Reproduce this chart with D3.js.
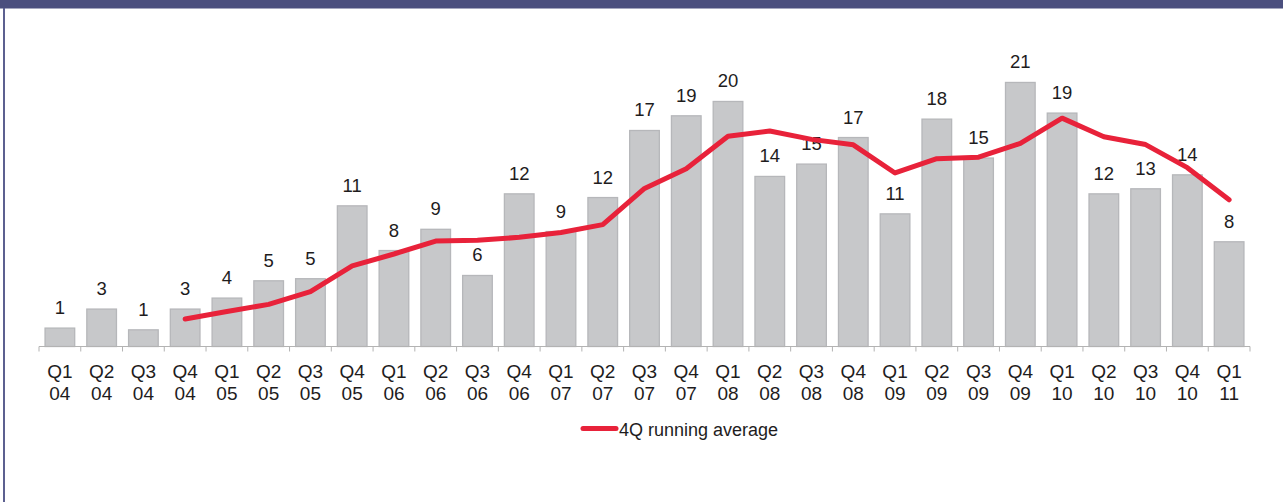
<!DOCTYPE html>
<html>
<head>
<meta charset="utf-8">
<script src="https://cdn.jsdelivr.net/npm/d3@7"></script>
<style>
  html, body { margin: 0; padding: 0; background: #fff; }
  svg { display: block; }
  text { font-family: "Liberation Sans", Arial, sans-serif; }
</style>
</head>
<body>
<svg id="chart" width="1283" height="502"></svg>
<script>
// Quarter labels (quarter, two-digit year)
const quarters = ["Q1","Q2","Q3","Q4","Q1","Q2","Q3","Q4","Q1","Q2","Q3","Q4","Q1","Q2","Q3",
                  "Q4","Q1","Q2","Q3","Q4","Q1","Q2","Q3","Q4","Q1","Q2","Q3","Q4","Q1"];
const years    = ["04","04","04","04","05","05","05","05","06","06","06","06","07","07","07",
                  "07","08","08","08","08","09","09","09","09","10","10","10","10","11"];
const categories = quarters.map((q, i) => q + " " + years[i]);

// Quarterly values (bars)
const quarterly = [1.49, 3.03, 1.35, 3.03, 3.92, 5.32, 5.49, 11.39, 7.77, 9.49, 5.75, 12.36, 9.31, 12.06, 17.49,
                   18.68, 19.84, 13.77, 14.77, 16.92, 10.74, 18.41, 15.26, 21.38, 18.90, 12.36, 12.77, 13.90, 8.48];

// 4Q running average (starts at Q4 04)
const runningAvg = [null, null, null, 2.23, 2.83, 3.41, 4.44, 6.53, 7.49, 8.54, 8.60, 8.84, 9.23, 9.87, 12.80,
                    14.39, 17.02, 17.45, 16.77, 16.33, 14.05, 15.21, 15.33, 16.45, 18.49, 16.98, 16.35, 14.48, 11.88];

const legendLabel = "4Q running average";

const svg = d3.select("#chart");
const W = 1283, H = 502;

// Frame: top band and left rule
svg.append("rect").attr("x", 0).attr("y", 0).attr("width", W).attr("height", 8.5).attr("fill", "#4b4f7e");
svg.append("rect").attr("x", 3).attr("y", 8).attr("width", 2).attr("height", H - 8).attr("fill", "#5c6090");

const left = 39, right = 1250, baseY = 346.5, topY = 37.75;

const xSlot = d3.scaleBand().domain(categories).range([left, right]).padding(0);
const step = xSlot.step();
const barW = step * 0.71;
const y = d3.scaleLinear().domain([0, 25]).range([baseY, topY]);

// Bars
svg.append("g").selectAll("rect").data(quarterly).join("rect")
  .attr("x", (d, i) => xSlot(categories[i]) + (step - barW) / 2)
  .attr("y", d => y(d))
  .attr("width", barW)
  .attr("height", d => baseY - y(d))
  .attr("fill", "#c7c8ca")
  .attr("stroke", "#b6b7ba")
  .attr("stroke-width", 1.3);

// Value labels
svg.append("g").selectAll("text").data(quarterly).join("text")
  .attr("x", (d, i) => xSlot(categories[i]) + step / 2)
  .attr("y", d => y(d) - 14)
  .attr("text-anchor", "middle")
  .attr("font-size", 18.5)
  .attr("fill", "#1e1c1d")
  .text(d => d3.format(".0f")(d));

// Category axis: baseline and boundary ticks
const axis = svg.append("g");
axis.append("line")
  .attr("x1", left).attr("x2", right).attr("y1", baseY).attr("y2", baseY)
  .attr("stroke", "#b3b3b3").attr("stroke-width", 1);
const bounds = categories.map(c => xSlot(c)).concat([right]);
axis.selectAll("line.tick").data(bounds).join("line")
  .attr("class", "tick")
  .attr("x1", d => d).attr("x2", d => d)
  .attr("y1", baseY).attr("y2", baseY + 5)
  .attr("stroke", "#b3b3b3").attr("stroke-width", 1);

const lbl = axis.selectAll("text").data(categories).join("text")
  .attr("text-anchor", "middle")
  .attr("font-size", 19)
  .attr("fill", "#1e1c1d");
lbl.append("tspan")
  .attr("x", (c) => xSlot(c) + step / 2).attr("y", 377.5)
  .text((c, i) => quarters[i]);
lbl.append("tspan")
  .attr("x", (c) => xSlot(c) + step / 2).attr("y", 400)
  .text((c, i) => years[i]);

// Running average line
const line = d3.line()
  .defined(d => d != null)
  .x((d, i) => xSlot(categories[i]) + step / 2)
  .y(d => y(d));
svg.append("path")
  .datum(runningAvg)
  .attr("d", line)
  .attr("fill", "none")
  .attr("stroke", "#e8223a")
  .attr("stroke-width", 5)
  .attr("stroke-linejoin", "round")
  .attr("stroke-linecap", "round");

// Legend
const lg = svg.append("g");
lg.append("line")
  .attr("x1", 583).attr("x2", 616).attr("y1", 428.5).attr("y2", 428.5)
  .attr("stroke", "#e8223a").attr("stroke-width", 5).attr("stroke-linecap", "round");
lg.append("text")
  .attr("x", 619).attr("y", 436)
  .attr("font-size", 18)
  .attr("fill", "#1e1c1d")
  .text(legendLabel);
</script>
</body>
</html>
